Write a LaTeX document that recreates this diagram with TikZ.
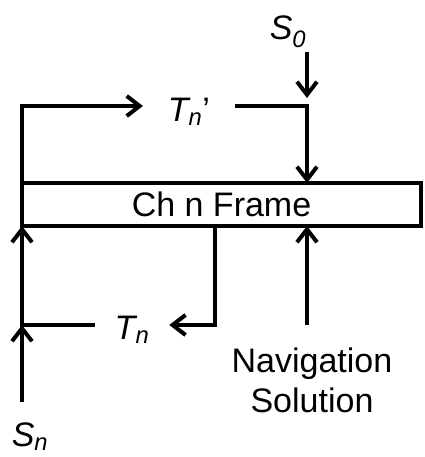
\documentclass[tikz,border=0pt]{standalone}
\usepackage{fontspec}
\setmainfont{Liberation Sans}
\usetikzlibrary{arrows.meta, positioning}

\begin{document}
\begin{tikzpicture}[x=1pt, y=-1pt,
        line width=4pt,
        arr/.style={-{Straight Barb[length=13pt, width=20pt]}},
        lbl/.style={font=\fontsize{34}{40}\selectfont, inner sep=0pt},
        frame/.style={draw, line width=3.5pt, minimum width=399pt, minimum height=43pt,
                      inner sep=0pt, outer sep=0pt, font=\fontsize{34}{40}\selectfont},
    ]
        \useasboundingbox (0,0) rectangle (424,457);
        \node[frame] (ch) at (221.5,204.5) {Ch n Frame};
        \node[lbl, inner xsep=23pt] (tnp) at (189,112) {\textit{T\textsubscript{n}}’};
        \node[lbl, inner xsep=18pt] (tn)  at (132,330) {\textit{T\textsubscript{n}}};
        \node[lbl] (s0) at (288,32) {\textit{S\textsubscript{0}}};
        \node[lbl] (sn) at (30,437) {\textit{S\textsubscript{n}}};
        \node[lbl, align=center] (nav) at (312,380) {Navigation\\Solution};
        \coordinate (tl) at (22,106);
        \coordinate (tr) at (307,106);
        \coordinate (bl) at (22,325);
        \coordinate (br) at (215,325);
        \coordinate (s0in) at (307,52);
        \coordinate (snin) at (22,402);
        \coordinate (navin) at (307,325);
        \draw[arr] (ch.north west) -- (tl) -- (tl -| tnp.west);
        \draw[arr] (tl -| tnp.east) -- (tr) -- (tr |- ch.north);
        \draw[arr] (s0in) -- ([yshift=8pt]tr);
        \draw[arr] (br |- ch.south) -- (br) -- (br -| tn.east);
        \draw[arr] (br -| tn.west) -- (bl) -- (ch.south west);
        \draw[arr] (snin) -- (bl);
        \draw[arr] (navin) -- (navin |- ch.south);
    \end{tikzpicture}
\end{document}
